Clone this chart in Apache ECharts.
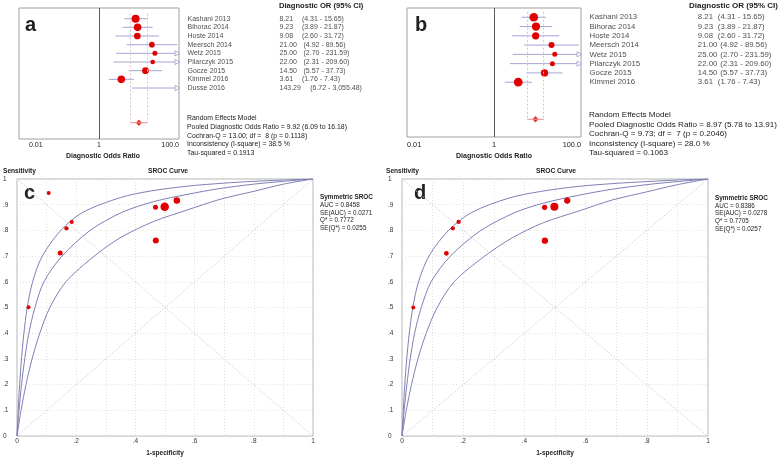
<!DOCTYPE html>
<html><head><meta charset="utf-8">
<script src="https://cdn.jsdelivr.net/npm/echarts@6/dist/echarts.min.js"></script>
<style>html,body{margin:0;padding:0;background:#fff}#chart{width:778px;height:462px}</style>
</head><body><div id="chart"></div><script>
// ---------- Forest plot a ----------
const studiesA = ['Kashani 2013','Bihorac 2014','Hoste 2014','Meersch 2014','Wetz 2015','Pilarczyk 2015','Gocze 2015','Kimmel 2016','Dusse 2016'];
const dorA = [8.21, 9.23, 9.08, 21.00, 25.00, 22.00, 14.50, 3.61, 143.29];
const loA = [4.31, 3.89, 2.60, 4.92, 2.70, 2.31, 5.57, 1.76, 6.72];
const hiA = [15.65, 21.87, 31.72, 89.56, 231.59, 209.60, 37.73, 7.43, 3055.48];
const weightA = [8, 7.6, 6.7, 5.7, 5, 4.7, 6.7, 7.6, 4];
const pooledA = [9.92, 6.09, 16.18];
const statsA = ['Random Effects Model','Pooled Diagnostic Odds Ratio = 9.92 (6.09 to 16.18)','Cochran-Q = 13.00; df =  8 (p = 0.1118)','Inconsistency (I-square) = 38.5 %','Tau-squared = 0.1913'];
// ---------- Forest plot b ----------
const studiesB = ['Kashani 2013','Bihorac 2014','Hoste 2014','Meersch 2014','Wetz 2015','Pilarczyk 2015','Gocze 2015','Kimmel 2016'];
const dorB = [8.21, 9.23, 9.08, 21.00, 25.00, 22.00, 14.50, 3.61];
const loB = [4.31, 3.89, 2.60, 4.92, 2.70, 2.31, 5.57, 1.76];
const hiB = [15.65, 21.87, 31.72, 89.56, 231.59, 209.60, 37.73, 7.43];
const weightB = [8.7, 8.3, 7.3, 6, 5, 5, 7.3, 8.7];
const pooledB = [8.97, 5.78, 13.91];
const statsB = ['Random Effects Model','Pooled Diagnostic Odds Ratio = 8.97 (5.78 to 13.91)','Cochran-Q = 9.73; df =  7 (p = 0.2046)','Inconsistency (I-square) = 28.0 %','Tau-squared = 0.1063'];
const forestTickLabels = {'-2':'0.01','0':'1','2':'100.0'};
// ---------- SROC c ----------
const fprC = [0.107, 0.039, 0.146, 0.167, 0.185, 0.468, 0.499, 0.540, 0.469];
const sensC = [0.946, 0.501, 0.712, 0.808, 0.833, 0.890, 0.892, 0.916, 0.761];
const weightC = [4, 4, 5, 4.3, 4, 5, 8.5, 6.5, 6];
const upperC = [[0,0],[0.004,0.1],[0.0089,0.2],[0.0151,0.3],[0.0233,0.4],[0.0345,0.5],[0.0526,0.6],[0.0854,0.7],[0.148,0.8],[0.222,0.87],[0.35,0.928],[0.45,0.953],[0.574,0.972],[0.7,0.984],[0.8,0.991],[0.9,0.996],[1,1]];
const middleC = [[0,0],[0.0069,0.1],[0.0154,0.2],[0.0261,0.3],[0.040,0.4],[0.0606,0.5],[0.0909,0.6],[0.152,0.7],[0.247,0.8],[0.354,0.87],[0.462,0.912],[0.574,0.94],[0.686,0.963],[0.8,0.98],[0.9,0.991],[1,1]];
const lowerC = [[0,0],[0.0137,0.1],[0.0303,0.2],[0.0508,0.3],[0.0769,0.4],[0.111,0.5],[0.165,0.6],[0.261,0.7],[0.348,0.771],[0.462,0.835],[0.574,0.879],[0.686,0.921],[0.8,0.952],[0.9,0.98],[1,1]];
const statsC = ['AUC = 0.8458','SE(AUC) = 0.0271','Q* = 0.7772','SE(Q*) = 0.0255'];
// ---------- SROC d ----------
const fprD = [0.037, 0.145, 0.166, 0.185, 0.466, 0.498, 0.540, 0.467];
const sensD = [0.500, 0.711, 0.808, 0.833, 0.890, 0.892, 0.916, 0.760];
const weightD = [4, 4.7, 4.3, 4.3, 5.3, 8, 6.3, 6.3];
const upperD = [[0,0],[0.0041,0.1],[0.0091,0.2],[0.0155,0.3],[0.0238,0.4],[0.0352,0.5],[0.054,0.6],[0.088,0.7],[0.152,0.8],[0.228,0.87],[0.35,0.926],[0.45,0.951],[0.574,0.971],[0.7,0.983],[0.8,0.99],[0.9,0.996],[1,1]];
const middleD = [[0,0],[0.0071,0.1],[0.0158,0.2],[0.0268,0.3],[0.0412,0.4],[0.063,0.5],[0.095,0.6],[0.158,0.7],[0.258,0.8],[0.37,0.87],[0.462,0.906],[0.574,0.936],[0.686,0.96],[0.8,0.978],[0.9,0.99],[1,1]];
const lowerD = [[0,0],[0.014,0.1],[0.031,0.2],[0.052,0.3],[0.079,0.4],[0.115,0.5],[0.17,0.6],[0.27,0.7],[0.36,0.771],[0.462,0.83],[0.574,0.874],[0.686,0.918],[0.8,0.95],[0.9,0.978],[1,1]];
const statsD = ['AUC = 0.8386','SE(AUC) = 0.0278','Q* = 0.7705','SE(Q*) = 0.0257'];

const FONT = '"Liberation Sans", Arial, sans-serif';
const CI_COLOR = '#a4a4d6';
const RED = '#e00000';
const CURVE = '#7f7fb4';

function fmt(v){
  const s = v.toFixed(2); const [i,d] = s.split('.');
  return i.replace(/\B(?=(\d{3})+(?!\d))/g, ',') + '.' + d;
}

const chart = echarts.init(document.getElementById('chart'), null, {renderer:'canvas'});

function forest(cfg){
  const series = [];
  series.push({
    type:'custom', xAxisIndex:cfg.gp, yAxisIndex:cfg.gp, silent:true, clip:false,
    data: cfg.lo.map((l,i)=>[l, cfg.hi[i], i]),
    encode:{x:[0,1], y:2},
    renderItem:(params, api)=>{
      const lo = api.value(0), hi = api.value(1), v = api.value(2);
      const p1 = api.coord([lo, v]);
      const p2 = api.coord([Math.min(hi, 100), v]);
      const ch = [{type:'line', shape:{x1:p1[0], y1:p1[1], x2:p2[0], y2:p2[1]}, style:{stroke:CI_COLOR, lineWidth:1}}];
      if (hi > 100) {
        ch.push({type:'polygon', shape:{points:[[p2[0]-4,p2[1]-2.6],[p2[0]+0.8,p2[1]],[p2[0]-4,p2[1]+2.6]]}, style:{stroke:CI_COLOR, fill:'#fff', lineWidth:0.9}});
      }
      return {type:'group', children:ch};
    }
  });
  series.push({
    type:'line', xAxisIndex:cfg.gp, yAxisIndex:cfg.gp, data:[], silent:true,
    markLine:{silent:true, symbol:'none', label:{show:false},
      data:[
        [{coord:[cfg.pooled[1], -0.6], lineStyle:{color:'#dcc4c4', type:[2,2], width:1}}, {coord:[cfg.pooled[1], cfg.pooledRow]}],
        [{coord:[cfg.pooled[2], -0.6], lineStyle:{color:'#dcc4c4', type:[2,2], width:1}}, {coord:[cfg.pooled[2], cfg.pooledRow]}],
        [{coord:[1, cfg.yMin], lineStyle:{color:'#5a5a5a', type:'solid', width:1}}, {coord:[1, cfg.yMax]}]
      ]}
  });
  series.push({
    type:'line', xAxisIndex:cfg.gp, yAxisIndex:cfg.gp, silent:true, symbol:'none',
    data:[[cfg.pooled[1], cfg.pooledRow],[cfg.pooled[2], cfg.pooledRow]],
    lineStyle:{color:'#e88a8a', width:1}
  });
  series.push({
    type:'scatter', xAxisIndex:cfg.gp, yAxisIndex:cfg.gp, silent:true,
    data: cfg.dor.map((d,i)=>[d,i]).filter(p=>p[0] <= 100),
    symbolSize:(val)=>cfg.w[val[1]],
    itemStyle:{color:RED, opacity:1}
  });
  series.push({
    type:'scatter', xAxisIndex:cfg.gp, yAxisIndex:cfg.gp, silent:true,
    data:[[cfg.pooled[0], cfg.pooledRow]], symbol:'diamond', symbolSize:[6,6.5],
    itemStyle:{color:RED}
  });
  series.push({
    type:'scatter', xAxisIndex:cfg.gt, yAxisIndex:cfg.gt, silent:true,
    data: cfg.names.map((nm,i)=>[0,i]), symbolSize:1, itemStyle:{color:'rgba(0,0,0,0)'},
    label:{show:true, position:'right', distance:0, color:'#222', fontFamily:FONT, fontSize:cfg.fs,
      formatter:(p)=>{
        const i = p.dataIndex; const vs = cfg.dor[i].toFixed(2);
        const key = 'v' + Math.min(Math.max(vs.length,4),6);
        return '{n|' + cfg.names[i] + '}{' + key + '|' + vs + '}{c|(' + fmt(cfg.lo[i]) + ' - ' + fmt(cfg.hi[i]) + ')}';
      },
      rich:{
        n:{width:cfg.nameW, fontSize:cfg.fs, fontFamily:FONT, color:'#222'},
        v4:{width:cfg.vw[0], fontSize:cfg.fs, fontFamily:FONT, color:'#222'},
        v5:{width:cfg.vw[1], fontSize:cfg.fs, fontFamily:FONT, color:'#222'},
        v6:{width:cfg.vw[2], fontSize:cfg.fs, fontFamily:FONT, color:'#222'},
        c:{fontSize:cfg.fs, fontFamily:FONT, color:'#222'}
      }
    }
  });
  return series;
}

function forestAxes(cfg){
  const x = [{
    gridIndex:cfg.gp, type:'log', logBase:10, min:0.01, max:100,
    axisLine:{show:false}, axisTick:{show:false}, splitLine:{show:false},
    axisLabel:{show:true, showMinLabel:true, showMaxLabel:true, margin:cfg.lblMargin, color:'#222', fontFamily:FONT, fontSize:cfg.tfs,
      alignMinLabel:'left', alignMaxLabel:'right',
      formatter:(v)=>{ const e = Math.round(Math.log10(v)); const t = forestTickLabels[String(e)]; if(!t) return ''; return e===-2 ? '{l|'+t+'}' : t; },
      rich:{l:{padding:[0,0,0,cfg.minPad], fontSize:cfg.tfs, fontFamily:FONT, color:'#222'}}
    },
    name:'Diagnostic Odds Ratio', nameLocation:'middle', nameGap:cfg.nameGap,
    nameTextStyle:{fontWeight:'bold', fontSize:cfg.nfs, fontFamily:FONT, color:'#222', padding:[0,0,0,cfg.namePad]}
  },{
    gridIndex:cfg.gt, type:'value', min:0, max:1, show:false
  }];
  const y = [
    {gridIndex:cfg.gp, type:'value', inverse:true, min:cfg.yMin, max:cfg.yMax, show:false},
    {gridIndex:cfg.gt, type:'value', inverse:true, min:cfg.yMin, max:cfg.yMax, show:false}
  ];
  return {x, y};
}

function srocAxes(g){
  const lab = (v)=>{ const k = Math.round(v*10); return k===0?'0':(k===10?'1':'.'+k); };
  return {
    x:{gridIndex:g, type:'value', min:0, max:1, interval:0.1,
      axisLine:{show:false}, axisTick:{show:false},
      splitLine:{show:true, lineStyle:{color:'#e2e2e2', type:[1,2], width:1}},
      axisLabel:{margin:2, fontSize:6.5, fontFamily:FONT, color:'#333', showMinLabel:true, showMaxLabel:true,
        formatter:(v)=>{ const k = Math.round(v*10); return (k%2) ? '' : lab(v); }},
      name:'1-specificity', nameLocation:'middle', nameGap:12,
      nameTextStyle:{fontWeight:'bold', fontSize:6.5, fontFamily:FONT, color:'#222'}
    },
    y:{gridIndex:g, type:'value', min:0, max:1, interval:0.1,
      axisLine:{show:false}, axisTick:{show:false},
      splitLine:{show:true, lineStyle:{color:'#e2e2e2', type:[1,2], width:1}},
      axisLabel:{margin:14, align:'left', fontSize:6.5, fontFamily:FONT, color:'#333', showMinLabel:true, showMaxLabel:true, formatter:lab}
    }
  };
}

function srocSeries(g, fpr, sens, w, up, mid, low){
  const line = (d)=>({type:'line', xAxisIndex:g, yAxisIndex:g, data:d, symbol:'none', silent:true, smooth:0.3, lineStyle:{color:CURVE, width:1}, z:3});
  return [
    {type:'line', xAxisIndex:g, yAxisIndex:g, data:[[0,0],[1,1]], symbol:'none', silent:true, lineStyle:{color:'#cfd0de', type:[1.5,1.5], width:1}, z:2},
    {type:'line', xAxisIndex:g, yAxisIndex:g, data:[[0,1],[1,0]], symbol:'none', silent:true, lineStyle:{color:'#cfd0de', type:[1.5,1.5], width:1}, z:2},
    line(up), line(mid), line(low),
    {type:'scatter', xAxisIndex:g, yAxisIndex:g, silent:true, data:fpr.map((f,i)=>[f, sens[i], i]),
      symbolSize:(val)=>w[val[2]], itemStyle:{color:RED, opacity:1}, z:5}
  ];
}

const cfgA = {gp:0, gt:1, names:studiesA, dor:dorA, lo:loA, hi:hiA, w:weightA, pooled:pooledA, yMin:-1.23, yMax:13.88, pooledRow:12,
  fs:7, nameW:92, vw:[22.4,24,30.7], tfs:7, lblMargin:3, minPad:10, nameGap:14, nfs:6.9, namePad:8};
const cfgB = {gp:2, gt:3, names:studiesB, dor:dorB, lo:loB, hi:hiB, w:weightB, pooled:pooledB, yMin:-1.0, yMax:12.91, pooledRow:11,
  fs:7.8, nameW:108.3, vw:[20,22.5,29], tfs:7.3, lblMargin:4, minPad:0, nameGap:16, nfs:7.1, namePad:0};

const axA = forestAxes(cfgA), axB = forestAxes(cfgB);
const axC = srocAxes(4), axD = srocAxes(5);

const txt = (x, y, text, o={}) => ({type:'text', x, y, silent:true, style:{text, fill:'#222', font:(o.bold?'bold ':'') + (o.size||7) + 'px ' + FONT, align:o.align||'left', verticalAlign:'middle'}});

const graphics = [
  txt(25, 25, 'a', {bold:true, size:20}),
  txt(415, 25, 'b', {bold:true, size:20}),
  txt(24, 193, 'c', {bold:true, size:20}),
  txt(414, 193, 'd', {bold:true, size:20}),
  txt(279, 6, 'Diagnostic OR (95% CI)', {bold:true, size:7.6}),
  txt(689, 6, 'Diagnostic OR (95% CI)', {bold:true, size:8}),
  txt(3, 171.5, 'Sensitivity', {bold:true, size:6.6}),
  txt(386, 171.5, 'Sensitivity', {bold:true, size:6.6}),
  txt(168, 171.5, 'SROC Curve', {bold:true, size:6.7, align:'center'}),
  txt(556, 171.5, 'SROC Curve', {bold:true, size:6.7, align:'center'}),
  txt(320, 197.5, 'Symmetric SROC', {bold:true, size:6.4}),
  txt(715, 198.3, 'Symmetric SROC', {bold:true, size:6.4})
];
statsA.forEach((s,i)=>graphics.push(txt(187, 118 + i*8.8, s, {size:6.9})));
statsB.forEach((s,i)=>graphics.push(txt(589, 115 + i*9.55, s, {size:8.1})));
statsC.forEach((s,i)=>graphics.push(txt(320, 205.3 + i*7.7, s, {size:6.3})));
statsD.forEach((s,i)=>graphics.push(txt(715, 205.8 + i*7.7, s, {size:6.3})));

chart.setOption({
  animation:false,
  backgroundColor:'#fff',
  textStyle:{fontFamily:FONT},
  grid:[
    {left:19, top:8, width:160, height:131, show:true, borderColor:'#a0a0a0', borderWidth:1, backgroundColor:'transparent'},
    {left:187, top:8, width:190, height:131},
    {left:407, top:8, width:174, height:129, show:true, borderColor:'#a0a0a0', borderWidth:1, backgroundColor:'transparent'},
    {left:589, top:8, width:189, height:129},
    {left:16, top:179, width:297, height:266, show:true, borderColor:'#b4b4b4', borderWidth:1, backgroundColor:'transparent'},
    {left:402, top:179, width:306, height:266, show:true, borderColor:'#b4b4b4', borderWidth:1, backgroundColor:'transparent'}
  ],
  xAxis:[axA.x[0], axA.x[1], axB.x[0], axB.x[1], axC.x, axD.x],
  yAxis:[axA.y[0], axA.y[1], axB.y[0], axB.y[1], axC.y, axD.y],
  series:[].concat(forest(cfgA), forest(cfgB),
    srocSeries(4, fprC, sensC, weightC, upperC, middleC, lowerC),
    srocSeries(5, fprD, sensD, weightD, upperD, middleD, lowerD)),
  graphic:graphics
});
</script></body></html>
